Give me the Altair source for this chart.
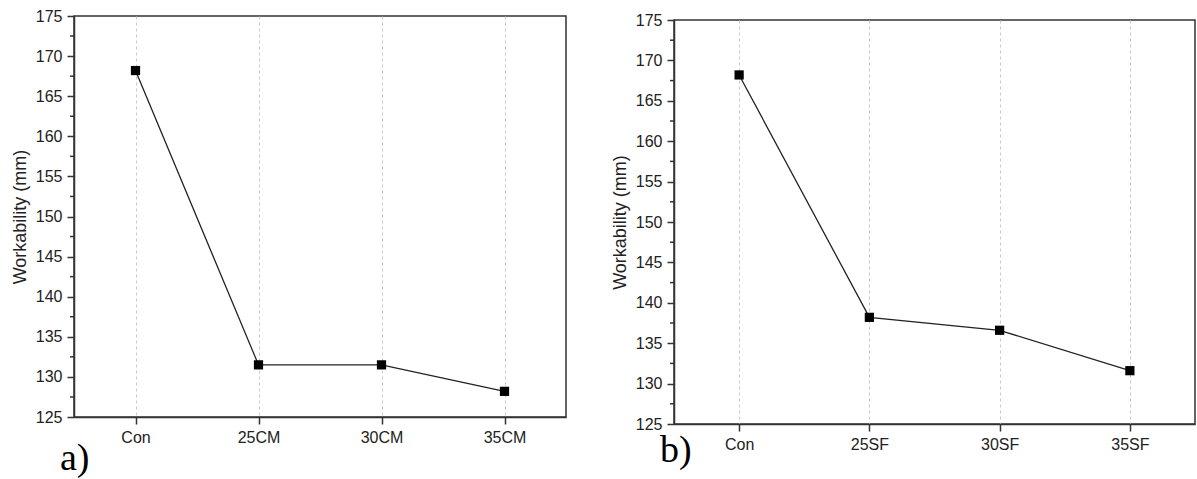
import altair as alt
import pandas as pd

cats_a = ["Con", "25CM", "30CM", "35CM"]
vals_a = [168.2, 131.5, 131.5, 128.2]
cats_b = ["Con", "25SF", "30SF", "35SF"]
vals_b = [168.2, 138.2, 136.6, 131.6]
y_ticks = [125, 130, 135, 140, 145, 150, 155, 160, 165, 170, 175]
y_minor = [127.5, 132.5, 137.5, 142.5, 147.5, 152.5, 157.5, 162.5, 167.5, 172.5]
y_title = "Workability (mm)"

AX = "#333333"
SANS = "Liberation Sans"
SERIF = "Liberation Serif"


def panel(cats, vals, label, w, h, label_dy):
    df = pd.DataFrame({"cat": cats, "val": vals})
    yscale = alt.Scale(domain=[125, 175], nice=False, zero=False)
    x = alt.X(
        "cat:N", sort=cats,
        scale=alt.Scale(type="point", padding=0.5),
        axis=alt.Axis(title=None, grid=True, gridDash=[3, 3], gridColor="#c8c8c8", gridWidth=1,
                      tickSize=7, tickColor=AX, tickWidth=1.5, domainColor=AX, domainWidth=1.5,
                      labelAngle=0, labelFont=SANS, labelFontSize=16, labelColor="#222222",
                      labelPadding=5),
    )
    y = alt.Y(
        "val:Q", scale=yscale,
        axis=alt.Axis(values=y_ticks, title=y_title, grid=False, tickSize=7, tickColor=AX,
                      tickWidth=1.5, domainColor=AX, domainWidth=1.5,
                      labelFont=SANS, labelFontSize=16, labelColor="#222222", labelPadding=5,
                      titleFont=SANS, titleFontSize=18, titleFontWeight="normal",
                      titleColor="#222222", titlePadding=6),
    )
    base = alt.Chart(df).encode(x=x, y=y)
    line = base.mark_line(color="#222222", strokeWidth=1.3)
    pts = base.mark_point(shape="square", filled=True, size=85, color="black", opacity=1)
    minor = alt.Chart(pd.DataFrame({"m": y_minor})).mark_rule(color=AX, strokeWidth=1.5).encode(
        y=alt.Y("m:Q", scale=yscale), x=alt.value(-4), x2=alt.value(0)
    )
    return alt.layer(line, pts, minor).properties(
        width=w, height=h,
        view=alt.ViewConfig(stroke=AX, strokeWidth=1.5),
        title=alt.TitleParams(label, orient="bottom", anchor="start", frame="group",
                              font=SERIF, fontSize=38, fontWeight="normal", color="black",
                              dx=-14, dy=label_dy, offset=-5),
    )


spacer = alt.Chart(pd.DataFrame({"v": [0]})).mark_rule(strokeOpacity=0, strokeWidth=0).encode(
    x=alt.value(0), x2=alt.value(0), y=alt.value(0), y2=alt.value(0)
).properties(width=1, height=1, view=alt.ViewConfig(stroke="transparent"))

right = alt.vconcat(spacer, panel(cats_b, vals_b, "b)", 521, 404, -15), spacing=-7)

chart = alt.hconcat(
    panel(cats_a, vals_a, "a)", 492, 401, 0),
    right,
    spacing=43,
).properties(
    padding={"left": 10, "top": 7, "right": 0, "bottom": 0}
).configure(background="white")

chart.save("out.html", embed_options={"renderer": "svg", "actions": False})
